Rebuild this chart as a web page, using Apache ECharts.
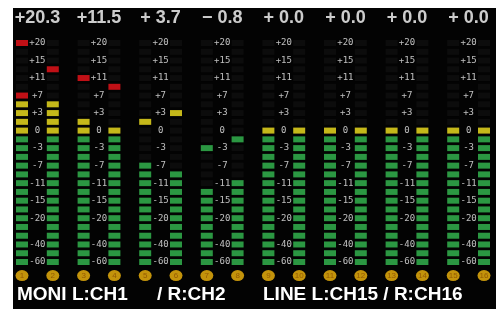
<!DOCTYPE html>
<html>
<head>
<meta charset="utf-8">
<script src="https://cdn.jsdelivr.net/npm/echarts@6/dist/echarts.min.js"></script>
<style>
  html, body { margin: 0; padding: 0; background: #fff; }
  #meter { position: absolute; left: 13px; top: 8px; width: 483px; height: 301px; }
</style>
</head>
<body>
<div id="meter"></div>
<script>
// channel numbers 1..16
const channels = [1, 2, 3, 4, 5, 6, 7, 8, 9, 10, 11, 12, 13, 14, 15, 16];
// lit segments per channel, counted from the bottom (26 segments total)
const levels = [20, 19, 17, 16, 12, 11, 9, 10, 16, 16, 16, 16, 16, 16, 16, 16];
// peak hold segment per channel (from the bottom)
const peaks = [26, 23, 22, 21, 17, 18, 14, 15, 16, 16, 16, 16, 16, 16, 16, 16];
// peak readout above each channel pair
const peakReadouts = ["+20.3", "+11.5", "+ 3.7", "\u2212 0.8", "+ 0.0", "+ 0.0", "+ 0.0", "+ 0.0"];
// scale tick labels and the segment they sit on
const scaleLabels = ["+20", "+15", "+11", "+7", "+3", "0", "-3", "-7", "-11", "-15", "-20", "-40", "-60"];
const scaleSegments = [26, 24, 22, 20, 18, 16, 14, 12, 10, 8, 6, 3, 1];
const segmentCount = 26;

const chart = echarts.init(document.getElementById("meter"));

// segment colours by zone
const seg_color = (k, lit) => {
  if (!lit) return "#0f0f0f";
  if (k >= 20) return "#f0141c";
  if (k >= 16) return "#f6e620";
  return "#36bd52";
};

// every segment of every channel
const segments = [];
channels.forEach((ch, i) => {
  for (let k = 1; k <= segmentCount; k++) {
    const lit = k <= levels[i] || k === peaks[i];
    segments.push({ value: [ch, k], itemStyle: { color: seg_color(k, lit) } });
  }
});

// scale labels sit between the two channels of a pair
const scale_data = [];
for (let p = 0; p < channels.length / 2; p++) {
  scaleLabels.forEach((t, j) => {
    scale_data.push({ name: t, value: [channels[p * 2] + 0.5, scaleSegments[j]] });
  });
}

const header_data = peakReadouts.map((t, p) => ({ name: t, value: [channels[p * 2] + 0.5, segmentCount + 2.85] }));
const badge_data = channels.map((ch) => ({ name: String(ch), value: [ch, -0.55] }));

chart.setOption({
  backgroundColor: "#030303",
  animation: false,
  grid: { left: 9, right: 12, top: 35, bottom: 47 },
  xAxis: { type: "value", min: 1, max: 16, show: false },
  yAxis: { type: "value", min: 1, max: segmentCount, show: false },
  graphic: [
    {
      type: "text",
      left: 4,
      top: 277,
      style: { text: "MONI L:CH1", fill: "#fff", font: "bold 19px 'Liberation Sans'" },
    },
    {
      type: "text",
      left: 144,
      top: 277,
      style: { text: "/ R:CH2", fill: "#fff", font: "bold 19px 'Liberation Sans'" },
    },
    {
      type: "text",
      left: 250,
      top: 277,
      style: { text: "LINE L:CH15 / R:CH16", fill: "#fff", font: "bold 19px 'Liberation Sans'" },
    },
  ],
  series: [
    {
      name: "segments",
      type: "scatter",
      symbol: "rect",
      symbolSize: [12, 6],
      data: segments,
      silent: true,
    },
    {
      name: "scale",
      type: "scatter",
      symbolSize: 0,
      data: scale_data,
      silent: true,
      label: {
        show: true,
        position: "inside",
        formatter: "{b}",
        color: "#ececec",
        fontFamily: "DejaVu Sans Mono",
        fontSize: 9,
      },
    },
    {
      name: "readout",
      type: "scatter",
      symbolSize: 0,
      clip: false,
      data: header_data,
      silent: true,
      label: {
        show: true,
        position: "inside",
        formatter: "{b}",
        color: "#fff",
        fontFamily: "Liberation Sans",
        fontWeight: "bold",
        fontSize: 18,
      },
    },
    {
      name: "badges",
      type: "scatter",
      symbol: "circle",
      symbolSize: [13, 11],
      clip: false,
      data: badge_data,
      silent: true,
      itemStyle: { color: "#f4b80e" },
      label: {
        show: true,
        position: "inside",
        formatter: "{b}",
        color: "#8a4c00",
        fontFamily: "Liberation Sans",
        fontSize: 8,
      },
    },
  ],
});
</script>
</body>
</html>
